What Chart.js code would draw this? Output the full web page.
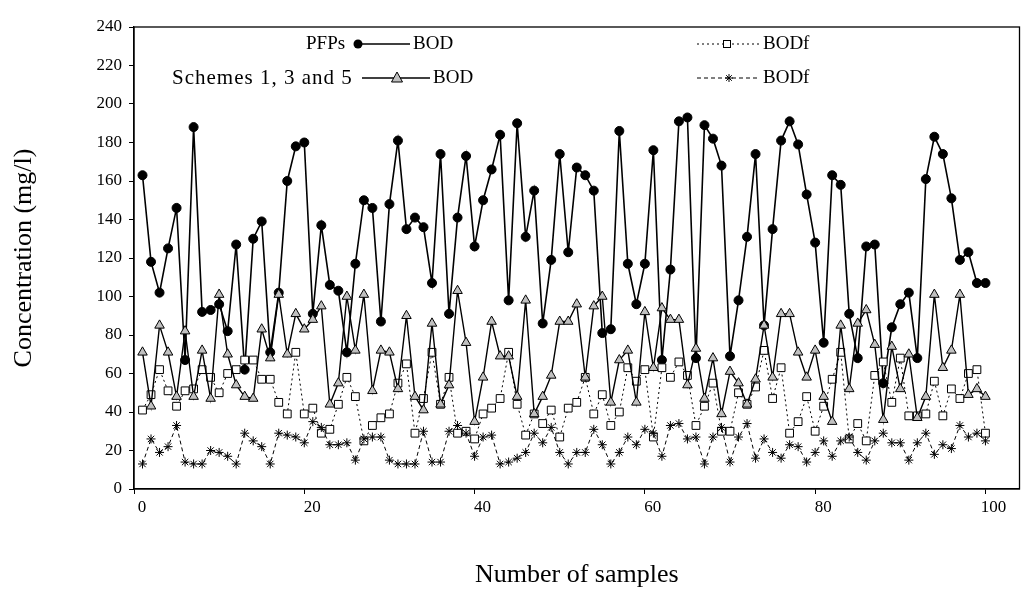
<!DOCTYPE html>
<html>
<head>
<meta charset="utf-8">
<script src="https://cdn.jsdelivr.net/npm/chart.js@4.4.1/dist/chart.umd.min.js"></script>
<style>
html,body{margin:0;padding:0;background:#fff;}
#wrap{position:relative;width:1026px;height:591px;}
</style>
</head>
<body>
<div id="wrap"><canvas id="c" width="1026" height="591"></canvas></div>
<script>
const samples = Array.from({length: 100}, (_, i) => i + 1);

const pfpBOD = [163,118,102,125,146,67,188,92,93,96,
  82,127,62,130,139,71,102,160,178,180,
  91,137,106,103,71,117,150,146,87,148,
  181,135,141,136,107,174,91,141,173,126,
  150,166,184,98,190,131,155,86,119,174,
  123,167,163,155,81,83,186,117,96,117,
  176,67,114,191,193,68,189,182,168,69,
  98,131,174,85,135,181,191,179,153,128,
  76,163,158,91,68,126,127,55,84,96,
  102,68,161,183,174,151,119,123,107,107];

const pfpBODf = [41,49,62,51,43,51,52,62,58,50,
  60,62,67,67,57,57,45,39,71,39,
  42,29,31,44,58,48,25,33,37,39,
  55,65,29,47,71,44,58,29,30,26,
  39,42,47,71,44,28,39,34,41,27,
  42,45,58,39,49,33,40,63,56,62,
  27,63,58,66,59,33,43,55,30,30,
  50,44,53,72,47,63,29,35,48,30,
  43,57,71,26,34,25,59,66,45,68,
  38,38,39,56,38,52,47,60,62,29];

const schBOD = [71,43,85,71,48,82,48,72,47,101,
  70,54,48,47,83,68,101,70,91,83,
  88,95,44,55,100,72,101,51,72,71,
  52,90,48,41,86,44,54,103,76,35,
  58,87,69,69,48,98,39,48,59,87,
  87,96,58,95,100,45,67,72,45,92,
  63,94,88,88,54,73,47,68,39,61,
  55,44,57,85,58,91,91,71,58,72,
  48,35,85,52,86,93,75,36,74,52,
  70,37,48,101,63,72,101,49,52,48];

const schBODf = [13,26,19,22,33,14,13,13,20,19,
  17,13,29,25,22,13,29,28,27,24,
  35,32,23,23,24,15,26,27,27,15,
  13,13,13,30,14,14,30,33,29,17,
  27,28,13,14,16,19,29,24,32,19,
  13,19,19,31,23,13,19,27,23,31,
  29,17,33,34,26,27,13,27,32,14,
  27,34,16,26,19,16,23,22,14,19,
  25,17,25,27,19,15,25,29,24,24,
  15,24,29,18,23,21,33,27,29,25];

const yTicks = [0,20,40,60,80,100,120,140,160,180,200,220,240];
const xTicks = [0,20,40,60,80,100];

const FONT = '"Liberation Serif", "Times New Roman", serif';

function pts(arr){ return samples.map((s, i) => ({x: s, y: arr[i]})); }

const framePlugin = {
  id: 'frame',
  afterDatasetsDraw(chart) {
    const {ctx, chartArea: a} = chart;
    ctx.save();
    ctx.strokeStyle = '#000';
    ctx.lineWidth = 1.3;
    ctx.strokeRect(a.left, a.top, a.right - a.left, a.bottom - a.top);
    ctx.restore();
  }
};

const legendPlugin = {
  id: 'customLegend',
  afterDraw(chart) {
    const ctx = chart.ctx;
    ctx.save();
    ctx.font = '19px ' + FONT;
    ctx.fillStyle = '#000';
    ctx.textBaseline = 'middle';
    const r1 = 44, r2 = 78;
    ctx.textAlign = 'left';
    ctx.fillText('PFPs', 306, r1);
    ctx.fillText('BOD', 413, r1);
    ctx.fillText('BODf', 763, r1);
    ctx.fillText('BOD', 433, r2);
    ctx.fillText('BODf', 763, r2);
    ctx.font = '21px ' + FONT;
    ctx.letterSpacing = '1px';
    ctx.fillText('Schemes 1, 3 and 5', 172, r2);
    ctx.letterSpacing = '0px';
    ctx.strokeStyle = '#000';
    // PFP BOD
    ctx.lineWidth = 1.5; ctx.setLineDash([]);
    ctx.beginPath(); ctx.moveTo(355, r1); ctx.lineTo(410, r1); ctx.stroke();
    ctx.beginPath(); ctx.arc(358, r1, 4.5, 0, Math.PI*2); ctx.fill();
    // PFP BODf
    ctx.lineWidth = 1; ctx.setLineDash([2, 3]);
    ctx.beginPath(); ctx.moveTo(697, r1); ctx.lineTo(760, r1); ctx.stroke();
    ctx.setLineDash([]);
    ctx.fillStyle = '#fff';
    ctx.fillRect(723, r1-4, 8, 8); ctx.strokeRect(723.5, r1-3.5, 7, 7);
    // Schemes BOD
    ctx.lineWidth = 1.5;
    ctx.beginPath(); ctx.moveTo(362, r2); ctx.lineTo(430, r2); ctx.stroke();
    ctx.fillStyle = '#c0c0c0'; ctx.lineWidth = 1;
    ctx.beginPath(); ctx.moveTo(397, r2-6); ctx.lineTo(402.5, r2+4); ctx.lineTo(391.5, r2+4); ctx.closePath(); ctx.fill(); ctx.stroke();
    // Schemes BODf
    ctx.setLineDash([4, 3]);
    ctx.beginPath(); ctx.moveTo(697, r2); ctx.lineTo(760, r2); ctx.stroke();
    ctx.setLineDash([]);
    const sx = 729, s = 4;
    ctx.beginPath();
    ctx.moveTo(sx-s, r2); ctx.lineTo(sx+s, r2);
    ctx.moveTo(sx, r2-s); ctx.lineTo(sx, r2+s);
    ctx.moveTo(sx-s*0.7, r2-s*0.7); ctx.lineTo(sx+s*0.7, r2+s*0.7);
    ctx.moveTo(sx-s*0.7, r2+s*0.7); ctx.lineTo(sx+s*0.7, r2-s*0.7);
    ctx.stroke();
    ctx.restore();
  }
};

new Chart(document.getElementById('c'), {
  type: 'line',
  data: {
    datasets: [
      { label: 'PFPs BOD', data: pts(pfpBOD), borderColor: '#000', borderWidth: 1.6,
        pointStyle: 'circle', pointRadius: 4.5, pointBackgroundColor: '#000', pointBorderColor: '#000', pointBorderWidth: 1, order: 4 },
      { label: 'PFPs BODf', data: pts(pfpBODf), borderColor: '#000', borderWidth: 1, borderDash: [2, 3],
        pointStyle: 'rect', pointRadius: 5.5, pointBackgroundColor: '#fff', pointBorderColor: '#000', pointBorderWidth: 1, order: 3 },
      { label: 'Schemes 1, 3 and 5 BOD', data: pts(schBOD), borderColor: '#000', borderWidth: 1.4,
        pointStyle: 'triangle', pointRadius: 5.5, pointBackgroundColor: '#c0c0c0', pointBorderColor: '#000', pointBorderWidth: 1, order: 2 },
      { label: 'Schemes 1, 3 and 5 BODf', data: pts(schBODf), borderColor: '#000', borderWidth: 1, borderDash: [4, 3],
        pointStyle: 'star', pointRadius: 4.5, pointBackgroundColor: '#000', pointBorderColor: '#000', pointBorderWidth: 1, order: 1 }
    ]
  },
  options: {
    responsive: false,
    animation: false,
    devicePixelRatio: 1,
    layout: { padding: { top: 27, right: 4, left: 0, bottom: 0 } },
    plugins: { legend: { display: false }, tooltip: { enabled: false } },
    elements: { line: { tension: 0, fill: false } },
    scales: {
      x: {
        type: 'linear', min: 0, max: 104,
        afterFit(s) { s.height = 102; },
        afterBuildTicks(s) { s.ticks = xTicks.map(v => ({value: v})); },
        ticks: { stepSize: 20, includeBounds: false, color: '#000', padding: 3, maxRotation: 0,
          labelOffset: 8, font: { family: FONT, size: 17 } },
        grid: { display: true, drawOnChartArea: false, drawTicks: true, tickLength: 5, color: '#000', lineWidth: 1 },
        border: { display: true, color: '#000', width: 1.3 },
        title: { display: true, text: 'Number of samples', color: '#000',
          font: { family: FONT, size: 26 }, padding: { top: 0, bottom: 0 } }
      },
      y: {
        type: 'linear', min: 0, max: 240,
        afterFit(s) { s.width = 134; },
        afterBuildTicks(s) { s.ticks = yTicks.map(v => ({value: v})); },
        ticks: { stepSize: 20, color: '#000', padding: 7, font: { family: FONT, size: 17 } },
        grid: { display: true, drawOnChartArea: false, drawTicks: true, tickLength: 5, color: '#000', lineWidth: 1 },
        border: { display: true, color: '#000', width: 1.3 },
        title: { display: true, text: 'Concentration (mg/l)', color: '#000',
          font: { family: FONT, size: 26 }, padding: { top: 9, bottom: 0 } }
      }
    }
  },
  plugins: [framePlugin, legendPlugin]
});
</script>
</body>
</html>
